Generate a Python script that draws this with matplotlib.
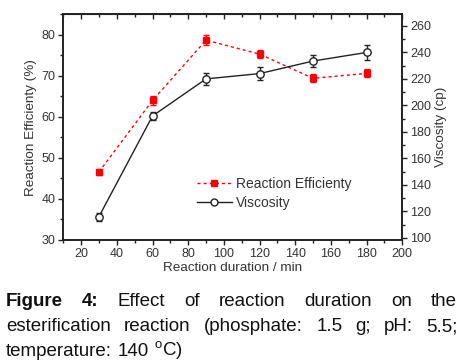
import matplotlib
matplotlib.use('Agg')
import matplotlib.pyplot as plt
from matplotlib.ticker import MultipleLocator
from matplotlib.lines import Line2D

plt.rcParams['font.family'] = ['Liberation Sans', 'DejaVu Sans']
plt.rcParams['mathtext.fontset'] = 'custom'
plt.rcParams['mathtext.rm'] = 'Liberation Sans'

# ---- data ----
duration = [30, 60, 90, 120, 150, 180]
efficiency = [46.6, 64.0, 78.7, 75.3, 69.4, 70.6]
efficiency_err = [0.7, 1.0, 1.3, 1.0, 1.0, 1.0]
viscosity = [116, 192, 220, 224, 233.5, 240]
viscosity_err = [3, 3, 4.3, 5, 4.8, 5.5]
x_ticks = [20, 40, 60, 80, 100, 120, 140, 160, 180, 200]
left_ticks = [30, 40, 50, 60, 70, 80]
right_ticks = [100, 120, 140, 160, 180, 200, 220, 240, 260]
labels = ['Reaction Efficienty', 'Viscosity']

TXT = '#333333'
W, H = 466, 363
fig = plt.figure(figsize=(W / 100, H / 100), dpi=100)
ax = fig.add_axes([63.3 / W, 1 - 240 / H, (402.3 - 63.3) / W, (240 - 14.3) / H])
ax2 = ax.twinx()

ax.errorbar(duration, efficiency, yerr=efficiency_err, color='#ff0000', ls=(0, (2.2, 2.2)),
            lw=1, marker='s', ms=4.8, mec='#ff0000', mfc='#ff0000', capsize=2,
            elinewidth=1, capthick=1, zorder=3)
ax2.errorbar(duration, viscosity, yerr=viscosity_err, color='#222222', ls='-', lw=1,
             marker='o', ms=5.3, mec='#222222', mfc='white', capsize=2,
             elinewidth=1, capthick=1, zorder=3)

ax.set_xlim(10, 200)
ax.set_ylim(30, 85)
ax2.set_ylim(98.3, 268.8)
ax.set_xticks(x_ticks)
ax.set_yticks(left_ticks)
ax2.set_yticks(right_ticks)
ax.xaxis.set_minor_locator(MultipleLocator(10))
ax.yaxis.set_minor_locator(MultipleLocator(5))
ax2.yaxis.set_minor_locator(MultipleLocator(10))

TL = 9
for a in (ax, ax2):
    for s in a.spines.values():
        s.set_linewidth(1.2)
        s.set_color('#222222')
    a.tick_params(which='both', direction='out', colors='#222222', labelcolor=TXT,
                  labelsize=TL, width=1)
    a.tick_params(which='major', length=3.5, pad=2)
    a.tick_params(which='minor', length=2)

top = ax.secondary_xaxis('top')
top.set_xticks(x_ticks)
top.xaxis.set_minor_locator(MultipleLocator(10))
top.tick_params(which='both', direction='in', labeltop=False, colors='#222222', width=1)
top.tick_params(which='major', length=3.5)
top.tick_params(which='minor', length=2)

LF = 9.7
ax.set_xlabel('Reaction duration / min', fontsize=LF, color=TXT, labelpad=2)
ax.set_ylabel('Reaction Efficienty (%)', fontsize=LF, color=TXT, labelpad=3)
ax2.set_ylabel('Viscosity (cp)', fontsize=LF, color=TXT, labelpad=3)

handles = [Line2D([], [], color='#ff0000', ls=(0, (2.2, 2.2)), lw=1, marker='s', ms=4.5, mfc='#ff0000', mec='#ff0000'),
           Line2D([], [], color='#222222', ls='-', lw=1, marker='o', ms=5, mfc='white', mec='#222222')]
leg = ax2.legend(handles, labels, loc='upper left', bbox_to_anchor=(0.394, 0.278), frameon=False,
                 fontsize=10, handlelength=2.5, handletextpad=0.34, borderpad=0, borderaxespad=0,
                 labelspacing=0.32)
for t in leg.get_texts():
    t.set_color(TXT)

# ---- caption (justified) ----
renderer = fig.canvas.get_renderer()
CAP = 13.5
cap_color = '#111111'

def place_line(pieces, y_px, x0, x1, justify=True):
    texts = []
    for s, bold in pieces:
        t = fig.text(0, 1 - y_px / H, s, fontsize=CAP, fontweight='bold' if bold else 'normal',
                     color=cap_color, va='baseline', ha='left')
        texts.append(t)
    widths = [t.get_window_extent(renderer).width for t in texts]
    if justify and len(texts) > 1:
        gap = ((x1 - x0) - sum(widths)) / (len(texts) - 1)
    else:
        t1 = fig.text(0, 0, 'a a', fontsize=CAP)
        t2 = fig.text(0, 0, 'aa', fontsize=CAP)
        gap = t1.get_window_extent(renderer).width - t2.get_window_extent(renderer).width
        t1.remove()
        t2.remove()
    x = x0
    for t, w in zip(texts, widths):
        t.set_x(x / W)
        x += w + gap

place_line([('Figure', True), ('4:', True), ('Effect', False), ('of', False), ('reaction', False),
            ('duration', False), ('on', False), ('the', False)], 306, 6, 457)
place_line([('esterification', False), ('reaction', False), ('(phosphate:', False), ('1.5', False),
            ('g;', False), ('pH:', False), ('5.5;', False)], 331, 6, 458)
place_line([('temperature:', False), ('140', False), (r'$^{\mathregular{o}}$C)', False)], 356, 6, 458,
           justify=False)

fig.savefig('out.png', dpi=100)
